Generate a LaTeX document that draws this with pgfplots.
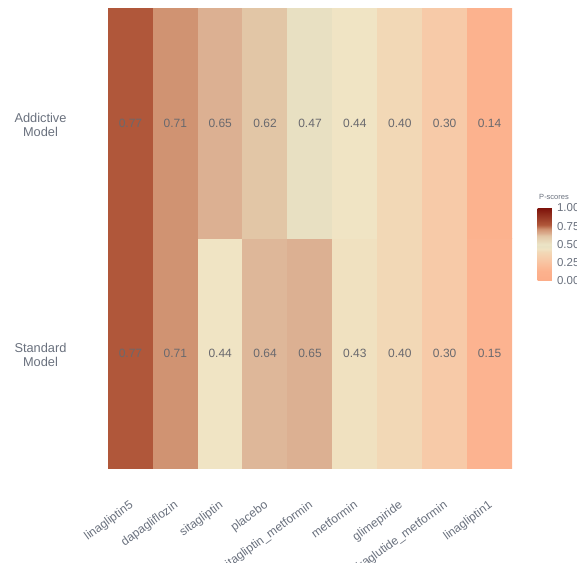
\documentclass[border=0pt]{standalone}
\usepackage{pgfplots}
\pgfplotsset{compat=1.18}
\usepackage{fontspec}
\setmainfont{Liberation Sans}
\definecolor{lab}{RGB}{105,112,125}
\definecolor{num}{RGB}{105,105,110}
\begin{document}
\begin{tikzpicture}[x=1pt,y=1pt]
\begin{axis}[
  at={(108pt,94pt)}, anchor=south west,
  scale only axis, width=404pt, height=460pt,
  xmin=-0.5, xmax=8.5, ymin=-0.5, ymax=1.5,
  enlargelimits=false,
  axis line style={draw=none}, tick style={draw=none},
  /pgf/number format/assume math mode=true,
  xtick={0,...,8},
  xticklabels={linagliptin5,dapagliflozin,sitagliptin,placebo,sitagliptin\_metformin,metformin,glimepiride,liraglutide\_metformin,linagliptin1},
  xticklabel style={anchor=north east, xshift=-1pt, yshift=-27pt, rotate=36, font=\fontsize{12}{13}\selectfont, text=lab},
  ytick={0,1},
  yticklabels={Standard\\Model,Addictive\\Model},
  yticklabel style={align=center, font=\fontsize{12.8}{13.2}\selectfont, text=lab, xshift=-38pt, yshift=-2pt},
  colormap={pscore}{
    rgb255(0cm)=(252,172,136);
    rgb255(0.14cm)=(252,178,142);
    rgb255(0.30cm)=(247,202,168);
    rgb255(0.40cm)=(242,216,182);
    rgb255(0.44cm)=(240,228,196);
    rgb255(0.47cm)=(232,224,194);
    rgb255(0.50cm)=(236,228,198);
    rgb255(0.62cm)=(226,198,166);
    rgb255(0.65cm)=(220,176,146);
    rgb255(0.71cm)=(208,147,114);
    rgb255(0.77cm)=(176,87,58);
    rgb255(1cm)=(125,18,10)},
  point meta min=0, point meta max=1,
  colorbar,
  colorbar style={
    at={(parent axis.south east)}, anchor=south west, xshift=17pt, yshift=187pt,
    scale only axis, width=19pt, height=73pt,
    ytick={0,0.25,0.5,0.75,1},
    yticklabel={\pgfmathprintnumber[fixed,fixed zerofill,precision=2]{\tick}},
    yticklabel style={font=\fontsize{11.5}{12}\selectfont, text=lab, xshift=-3pt},
    axis line style={draw=none}, tick style={draw=none},
    /pgf/number format/assume math mode=true,
    title={P-scores},
    title style={font=\fontsize{7.5}{8}\selectfont, text=lab, yshift=-1pt, xshift=7pt},
  },
  nodes near coords={\pgfmathprintnumber[fixed,fixed zerofill,precision=2]{\pgfplotspointmeta}},
  every node near coord/.append style={anchor=center, font=\fontsize{12}{13}\selectfont, text=num},
]
\addplot[matrix plot*, mesh/cols=9, point meta=explicit] table[meta=z] {
x y z
0 0 0.77
1 0 0.71
2 0 0.44
3 0 0.64
4 0 0.65
5 0 0.43
6 0 0.40
7 0 0.30
8 0 0.15
0 1 0.77
1 1 0.71
2 1 0.65
3 1 0.62
4 1 0.47
5 1 0.44
6 1 0.40
7 1 0.30
8 1 0.14
};
\end{axis}
\pgfresetboundingbox
\useasboundingbox (0pt,0pt) rectangle (577pt,562pt);
\end{tikzpicture}
\end{document}
